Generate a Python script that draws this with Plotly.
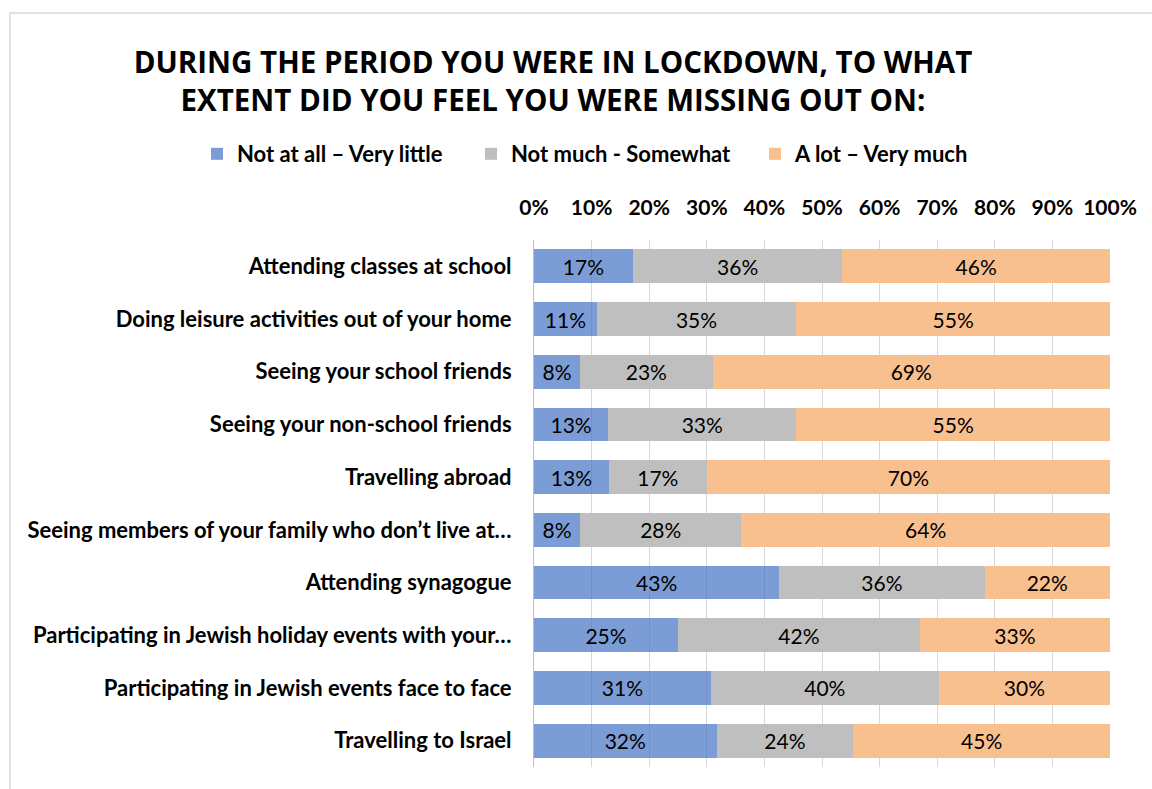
import plotly.graph_objects as go

# Survey items (top to bottom)
categories = [
    "Attending classes at school",
    "Doing leisure activities out of your home",
    "Seeing your school friends",
    "Seeing your non-school friends",
    "Travelling abroad",
    "Seeing members of your family who don’t live at…",
    "Attending synagogue",
    "Participating in Jewish holiday events with your…",
    "Participating in Jewish events face to face",
    "Travelling to Israel",
]

series_names = ["Not at all – Very little", "Not much - Somewhat", "A lot – Very much"]
not_at_all = [17, 11, 8, 13, 13, 8, 43, 25, 31, 32]
not_much = [36, 35, 23, 33, 17, 28, 36, 42, 40, 24]
a_lot = [46, 55, 69, 55, 70, 64, 22, 33, 30, 45]

tick_vals = [0, 10, 20, 30, 40, 50, 60, 70, 80, 90, 100]
tick_text = [f"{v}%" for v in tick_vals]

colors = ["rgba(68,114,196,0.70)", "#BFBFBF", "#F8BF8F"]

FONT = "Lato"
W, H = 1152, 789
L, R, T, B = 534, 42, 240, 22

legend_ids = ["legend", "legend2", "legend3"]
legend_left = [197, 471, 755]

fig = go.Figure()
for name, vals, col, lg in zip(series_names, [not_at_all, not_much, a_lot], colors, legend_ids):
    fig.add_trace(go.Bar(
        y=categories, x=vals, name=name, orientation="h",
        marker=dict(color=col, line=dict(width=0)),
        text=[f"{v}%" for v in vals],
        textposition="inside", insidetextanchor="middle",
        textfont=dict(family=FONT, size=21, color="#000000"),
        width=0.64, legend=lg,
    ))

pw = W - L - R
ph = H - T - B


def px_x(p):
    return (p - L) / pw


def px_y(p):
    return (H - B - p) / ph


legend_font = dict(family=FONT, size=22, color="#000000", weight="bold")
legends = {}
for lg, lx in zip(legend_ids, legend_left):
    legends[lg] = dict(
        orientation="h", xref="container", yref="container",
        x=lx / W, xanchor="left", y=1 - 154 / H, yanchor="middle",
        font=legend_font, bgcolor="rgba(0,0,0,0)",
    )

fig.update_layout(
    width=W, height=H,
    barmode="stack", barnorm="percent",
    plot_bgcolor="white", paper_bgcolor="white",
    margin=dict(l=L, r=R, t=T, b=B, autoexpand=False),
    uniformtext=dict(minsize=21, mode="show"),
    title=dict(
        text="DURING THE PERIOD YOU WERE IN LOCKDOWN, TO WHAT<br>EXTENT DID YOU FEEL YOU WERE MISSING OUT ON:",
        font=dict(family="Open Sans", size=29.5, color="#000000", weight="bold"),
        xref="container", x=553 / W, xanchor="center",
        yref="container", y=1 - 73 / H, yanchor="middle",
    ),
    xaxis=dict(
        side="top", range=[0, 100], tickvals=tick_vals, ticktext=tick_text,
        showgrid=True, gridcolor="#D9D9D9", gridwidth=1,
        zeroline=False, showline=False, ticks="", ticklabelstandoff=20,
        tickfont=dict(family=FONT, size=21, color="#000000", weight="bold"),
        fixedrange=True,
    ),
    yaxis=dict(
        autorange="reversed", showline=True, linecolor="#BFBFBF", linewidth=1,
        ticks="", ticklabelstandoff=17,
        tickfont=dict(family=FONT, size=22, color="#000000", weight="bold"),
        showgrid=False,
    ),
    showlegend=True,
    **legends,
)

# Chart frame border
fig.add_shape(
    type="rect", xref="paper", yref="paper",
    x0=px_x(10), x1=px_x(1170), y0=px_y(13), y1=px_y(820),
    line=dict(color="#D9D9D9", width=1.5), fillcolor="rgba(0,0,0,0)", layer="below",
)

fig.write_html("out.html")
